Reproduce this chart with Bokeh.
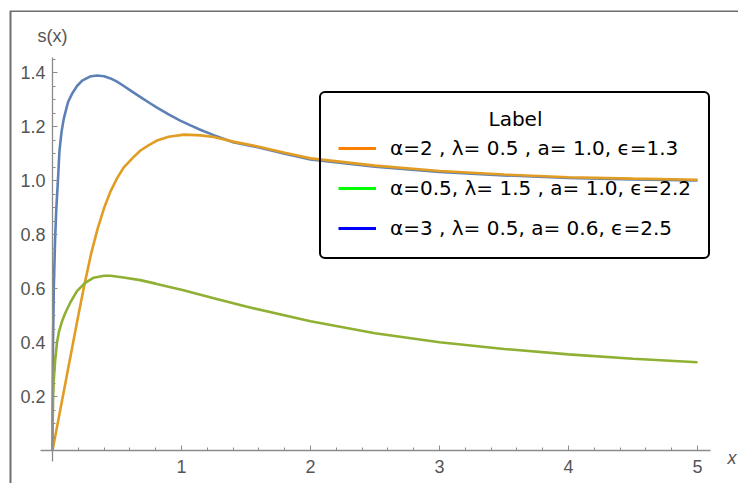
from bokeh.plotting import figure
from bokeh.models import (Range1d, FixedTicker, Legend, LegendItem, Label,
                          ColumnDataSource, PrintfTickFormatter)
from bokeh.embed import file_html
from bokeh.resources import INLINE

# ---- data ----
blue_x = [0, 0.001, 0.004, 0.01, 0.02, 0.03, 0.041, 0.054, 0.07, 0.088, 0.12, 0.15,
          0.19, 0.23, 0.29, 0.346, 0.4, 0.45, 0.5, 0.553, 0.6, 0.65, 0.7, 0.75, 0.81,
          0.9, 0.99, 1.07, 1.15, 1.25, 1.4, 1.6, 1.8, 2.0, 2.5, 3.0, 3.5, 4.0, 4.5, 5.0]
blue_y = [0, 0.15, 0.4, 0.6, 0.78, 0.9, 0.99, 1.11, 1.18, 1.23, 1.29, 1.32,
          1.35, 1.37, 1.385, 1.389, 1.386, 1.378, 1.366, 1.35, 1.335, 1.319, 1.303, 1.288,
          1.27, 1.245, 1.222, 1.204, 1.187, 1.168, 1.142, 1.122, 1.099, 1.078, 1.051,
          1.032, 1.019, 1.009, 1.004, 1.0]

orange_x = [0, 0.05, 0.1, 0.15, 0.2, 0.25, 0.3, 0.35, 0.4, 0.45, 0.5, 0.553, 0.62,
            0.682, 0.75, 0.81, 0.9, 1.02, 1.15, 1.25, 1.4, 1.6, 1.8, 2.0, 2.5,
            3.0, 3.5, 4.0, 4.5, 5.0]
orange_y = [0, 0.125, 0.25, 0.375, 0.5, 0.62, 0.73, 0.822, 0.898, 0.96, 1.008, 1.049, 1.083,
            1.111, 1.132, 1.148, 1.162, 1.17, 1.167, 1.161, 1.144, 1.125, 1.103, 1.082, 1.055,
            1.035, 1.022, 1.012, 1.007, 1.003]

green_x = [0, 0.002, 0.005, 0.01, 0.02, 0.035, 0.05, 0.075, 0.1, 0.14, 0.19, 0.25,
           0.32, 0.4, 0.45, 0.55, 0.68, 0.8, 0.94, 1.0, 1.25, 1.5, 2.0, 2.5,
           3.0, 3.5, 4.0, 4.5, 5.0]
green_y = [0, 0.12, 0.2, 0.26, 0.33, 0.4, 0.44, 0.48, 0.51, 0.55, 0.59, 0.62,
           0.64, 0.647, 0.647, 0.641, 0.631, 0.618, 0.602, 0.595, 0.564, 0.533, 0.479, 0.434,
           0.401, 0.376, 0.356, 0.340, 0.327]

legend_labels = ["α=2 , λ= 0.5 , a= 1.0, ϵ=1.3",
                 "α=0.5, λ= 1.5 , a= 1.0, ϵ=2.2",
                 "α=3 , λ= 0.5, a= 0.6, ϵ=2.5"]
legend_colors = ["#FF8000", "#00FF00", "#0000FF"]
legend_title = "Label"
x_label = "x"
y_label = "s(x)"

x_ticks = [1, 2, 3, 4, 5]
x_minor = [0.2, 0.4, 0.6, 0.8, 1.2, 1.4, 1.6, 1.8, 2.2, 2.4, 2.6, 2.8, 3.2, 3.4, 3.6, 3.8,
           4.2, 4.4, 4.6, 4.8]
y_ticks = [0.2, 0.4, 0.6, 0.8, 1.0, 1.2, 1.4]
y_minor = [0.05, 0.1, 0.15, 0.25, 0.3, 0.35, 0.45, 0.5, 0.55, 0.65, 0.7, 0.75, 0.85, 0.9,
           0.95, 1.05, 1.1, 1.15, 1.25, 1.3, 1.35, 1.45]

# ---- layout: the plotting frame fills the canvas, axes cross at the origin ----
W, H = 738, 483
X0_PX, Y0_PX = 52, 450          # where the origin sits on the canvas
PX_X, PX_Y = 129.0, 270.0       # pixels per data unit
x_axis_extent = (-0.093, 5.1)
y_axis_extent = (-0.04, 1.456)

FONT = "Liberation Sans"
LFONT = "DejaVu Sans"
AX = "#8c8c8c"
TXT = "#555555"

p = figure(width=W, height=H, output_backend="svg", toolbar_location=None, title=None,
           x_range=Range1d(-X0_PX / PX_X, (W - X0_PX) / PX_X),
           y_range=Range1d(-(H - Y0_PX) / PX_Y, Y0_PX / PX_Y),
           min_border=0)
p.outline_line_color = None
p.grid.visible = False
p.background_fill_alpha = 0
p.border_fill_alpha = 0
p.styles = {"box-shadow": "inset 9.5px 10.5px 0 0 #ffffff, inset 11.5px 12px 0 0 #6e6e6e",
            "background-color": "white"}

xax = p.xaxis[0]
yax = p.yaxis[0]
for ax, maj, mnr, ext in ((xax, x_ticks, x_minor, x_axis_extent),
                          (yax, y_ticks, y_minor, y_axis_extent)):
    ax.fixed_location = 0
    ax.bounds = ext
    ax.ticker = FixedTicker(ticks=maj, minor_ticks=mnr)
    ax.axis_line_color = AX
    ax.axis_line_width = 1.3
    ax.major_tick_line_color = AX
    ax.minor_tick_line_color = AX
    ax.major_tick_in = 5
    ax.major_tick_out = 0
    ax.minor_tick_in = 3
    ax.minor_tick_out = 0
    ax.major_label_text_font = FONT
    ax.major_label_text_font_size = "18px"
    ax.major_label_text_color = TXT
xax.major_label_standoff = 9
yax.major_label_standoff = 7
yax.formatter = PrintfTickFormatter(format="%.1f")

p.line(blue_x, blue_y, line_color="#5E81B5", line_width=2.6)
p.line(orange_x, orange_y, line_color="#E19C24", line_width=2.6)
p.line(green_x, green_y, line_color="#8FB032", line_width=2.6)

nan = float("nan")
items = []
for lab, col in zip(legend_labels, legend_colors):
    r = p.line(x="x", y="y", source=ColumnDataSource(data=dict(x=[nan], y=[nan])),
               line_color=col, line_width=3)
    items.append(LegendItem(label=lab, renderers=[r]))

leg_kwargs = dict(items=items, location=(319, 224), title=" ",
                  title_text_font_size="20px", title_text_font=LFONT, title_standoff=2,
                  label_text_font=LFONT, label_text_font_size="20px", label_text_color="black",
                  glyph_width=38, glyph_height=24, label_height=24, label_standoff=14,
                  padding=17, spacing=16, margin=0,
                  border_line_color="black", border_line_width=2, border_line_alpha=1,
                  background_fill_alpha=0)
if "border_radius" in Legend.properties():
    leg_kwargs["border_radius"] = 6
p.add_layout(Legend(**leg_kwargs), "center")

p.add_layout(Label(x=515, y=H - 118, x_units="screen", y_units="screen", text=legend_title,
                   text_align="center", text_baseline="middle", text_font=LFONT,
                   text_font_size="20px", text_color="black"))
p.add_layout(Label(x=X0_PX, y=H - 35, x_units="screen", y_units="screen", text=y_label,
                   text_align="center", text_baseline="middle", text_font=FONT,
                   text_font_size="18px", text_color=TXT))
p.add_layout(Label(x=727, y=H - 457, x_units="screen", y_units="screen", text=x_label,
                   text_align="left", text_baseline="middle", text_font=FONT,
                   text_font_size="18px", text_font_style="italic", text_color=TXT))

open("out.html", "w").write(file_html(p, INLINE))
